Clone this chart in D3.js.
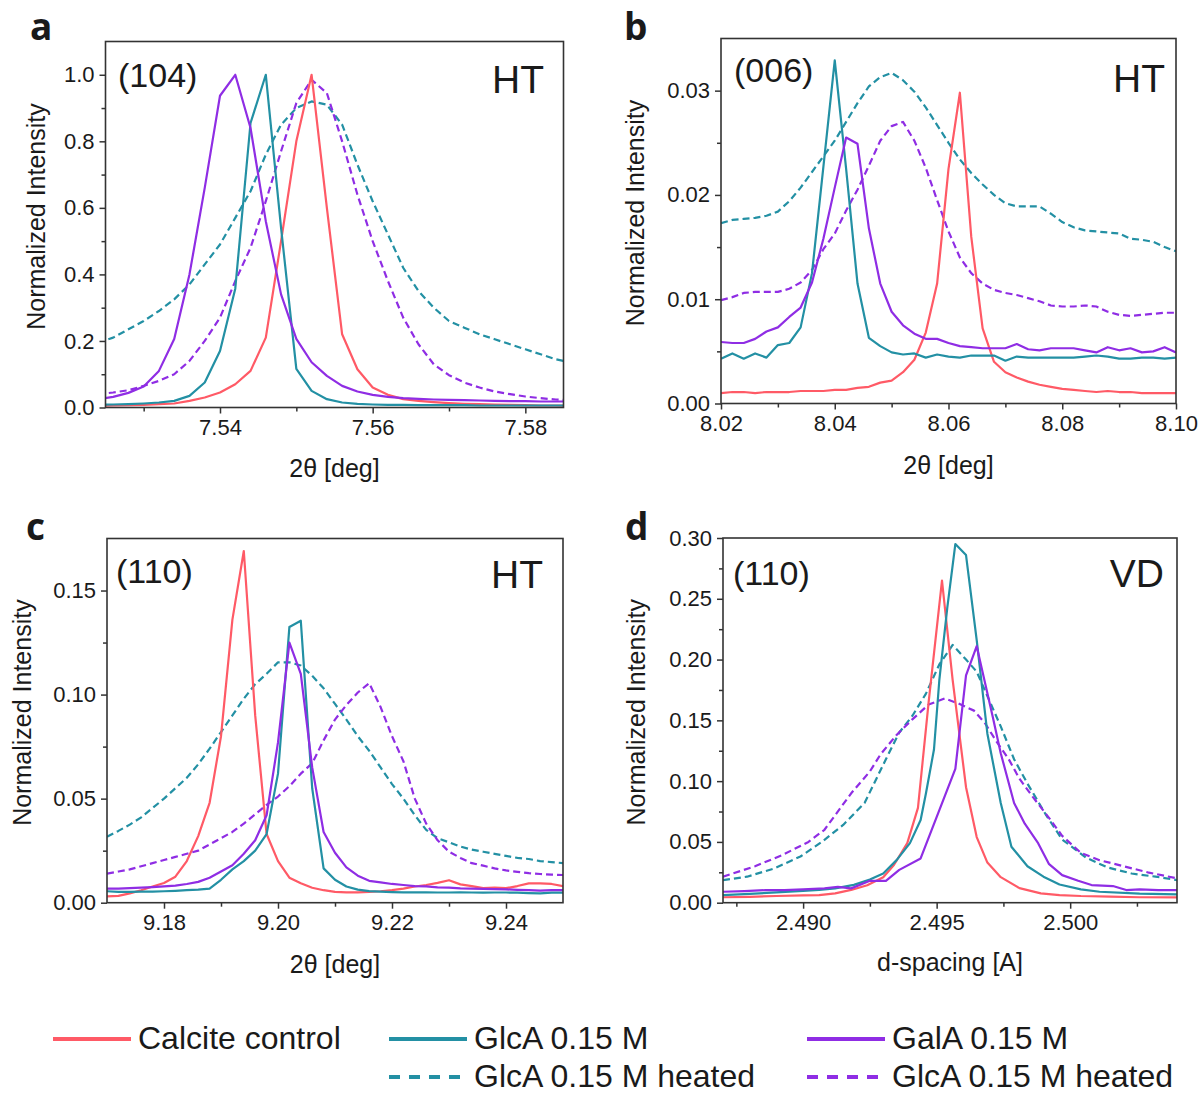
<!DOCTYPE html>
<html>
<head>
<meta charset="utf-8">
<script src="https://cdn.jsdelivr.net/npm/d3@7"></script>
<style>
  body { margin: 0; background: #fff; }
  svg text { font-family: "Liberation Sans", Arial, sans-serif; fill: #1a1a1a; }
</style>
</head>
<body>
<script>

// ---- panel a : (104) HT, 2theta ----
var aX = [7.524,7.526,7.528,7.530,7.532,7.534,7.536,7.538,7.540,7.542,7.544,7.546,7.548,7.550,7.552,7.554,
          7.556,7.558,7.560,7.562,7.564,7.566,7.568,7.570,7.572,7.574,7.576,7.578,7.580,7.582,7.584,7.586];
var aCalcite     = [0.005,0.006,0.007,0.008,0.010,0.012,0.020,0.030,0.045,0.070,0.110,0.210,0.500,0.800,1.000,0.600,
                    0.220,0.115,0.060,0.038,0.025,0.020,0.016,0.013,0.011,0.010,0.009,0.008,0.007,0.006,0.006,0.005];
var aGlcA        = [0.008,0.009,0.010,0.012,0.015,0.020,0.035,0.075,0.170,0.357,0.855,1.000,0.540,0.116,0.050,0.025,
                    0.015,0.011,0.009,0.008,0.008,0.007,0.007,0.007,0.007,0.006,0.006,0.006,0.006,0.006,0.006,0.006];
var aGalA        = [0.025,0.032,0.044,0.063,0.110,0.206,0.400,0.660,0.937,1.000,0.840,0.560,0.340,0.206,0.136,0.095,
                    0.065,0.048,0.038,0.032,0.028,0.026,0.024,0.023,0.022,0.021,0.020,0.019,0.019,0.018,0.018,0.018];
var aGlcAHeated  = [0.195,0.210,0.235,0.260,0.290,0.325,0.370,0.430,0.490,0.570,0.650,0.760,0.850,0.900,0.920,0.910,
                    0.850,0.730,0.620,0.520,0.420,0.350,0.300,0.260,0.240,0.220,0.205,0.190,0.175,0.160,0.145,0.135];
var aGalAHeated  = [0.040,0.045,0.052,0.065,0.080,0.100,0.140,0.200,0.270,0.380,0.480,0.620,0.770,0.915,0.985,0.945,
                    0.800,0.640,0.500,0.380,0.270,0.190,0.130,0.097,0.075,0.060,0.048,0.040,0.033,0.028,0.024,0.021];

// ---- panel b : (006) HT, 2theta ----
var bX = [8.020,8.022,8.024,8.026,8.028,8.030,8.032,8.034,8.036,8.038,8.040,8.042,8.044,8.046,8.048,8.050,8.052,
          8.054,8.056,8.058,8.060,8.062,8.064,8.066,8.068,8.070,8.072,8.074,8.076,8.078,8.080,8.082,8.084,8.086,
          8.088,8.090,8.092,8.094,8.096,8.098,8.100];
var bCalcite    = [0.0010,0.0011,0.0011,0.0010,0.0011,0.0011,0.0011,0.0012,0.0012,0.0012,
                   0.0013,0.0013,0.0015,0.0016,0.0020,0.0022,0.0030,0.0042,0.0068,0.0115,
                   0.0225,0.0298,0.0160,0.0072,0.0040,0.0030,0.0025,0.0021,0.0018,0.0016,
                   0.0014,0.0013,0.0012,0.0011,0.0012,0.0011,0.0011,0.0010,0.0010,0.0010,0.0010];
var bGlcA       = [0.0043,0.0048,0.0043,0.0048,0.0044,0.0056,0.0058,0.0073,0.0125,0.0227,
                   0.0329,0.0225,0.0115,0.0063,0.0055,0.0049,0.0047,0.0048,0.0044,0.0047,
                   0.0045,0.0044,0.0046,0.0046,0.0046,0.0041,0.0045,0.0044,0.0044,0.0044,
                   0.0044,0.0044,0.0045,0.0046,0.0045,0.0043,0.0043,0.0044,0.0044,0.0043,0.0044];
var bGalA       = [0.0059,0.0058,0.0058,0.0062,0.0069,0.0073,0.0083,0.0092,0.0116,0.0158,
                   0.0207,0.0255,0.0249,0.0168,0.0115,0.0088,0.0075,0.0067,0.0062,0.0062,
                   0.0058,0.0055,0.0054,0.0053,0.0053,0.0053,0.0057,0.0052,0.0051,0.0053,
                   0.0053,0.0053,0.0051,0.0049,0.0054,0.0051,0.0053,0.0049,0.0050,0.0054,0.0049];
var bGlcAHeated = [0.0173,0.0176,0.0177,0.0178,0.0180,0.0184,0.0194,0.0207,0.0222,0.0237,
                   0.0252,0.0270,0.0288,0.0304,0.0313,0.0317,0.0310,0.0299,0.0284,0.0267,
                   0.0250,0.0234,0.0221,0.0210,0.0200,0.0192,0.0189,0.0189,0.0189,0.0182,
                   0.0174,0.0169,0.0166,0.0165,0.0164,0.0163,0.0158,0.0157,0.0155,0.0150,0.0146];
var bGalAHeated = [0.0099,0.0102,0.0106,0.0107,0.0107,0.0107,0.0110,0.0116,0.0128,0.0148,
                   0.0163,0.0185,0.0205,0.0228,0.0252,0.0266,0.0270,0.0252,0.0226,0.0195,
                   0.0165,0.0140,0.0125,0.0115,0.0109,0.0106,0.0104,0.0101,0.0098,0.0094,
                   0.0093,0.0093,0.0094,0.0093,0.0088,0.0085,0.0084,0.0085,0.0086,0.0087,0.0087];

// ---- panel c : (110) HT, 2theta ----
var cX = [9.170,9.172,9.174,9.176,9.178,9.180,9.182,9.184,9.186,9.188,9.190,9.192,9.194,9.196,9.198,9.200,9.202,
          9.204,9.206,9.208,9.210,9.212,9.214,9.216,9.218,9.220,9.222,9.224,9.226,9.228,9.230,9.232,9.234,9.236,
          9.238,9.240,9.242,9.244,9.246,9.248,9.250];
var cCalcite    = [0.0030,0.0033,0.0045,0.0060,0.0078,0.0095,0.0125,0.0200,0.0320,0.0480,
                   0.0800,0.1360,0.1690,0.0900,0.0330,0.0200,0.0120,0.0093,0.0072,0.0060,
                   0.0052,0.0050,0.0050,0.0052,0.0055,0.0060,0.0068,0.0078,0.0085,0.0095,
                   0.0108,0.0088,0.0080,0.0070,0.0072,0.0070,0.0080,0.0093,0.0093,0.0090,0.0080];
var cGlcA       = [0.0055,0.0052,0.0052,0.0053,0.0053,0.0055,0.0057,0.0060,0.0063,0.0068,
                   0.0110,0.0160,0.0200,0.0250,0.0330,0.0620,0.1325,0.1355,0.0550,0.0165,
                   0.0110,0.0078,0.0063,0.0056,0.0053,0.0051,0.0050,0.0050,0.0050,0.0049,
                   0.0049,0.0050,0.0049,0.0048,0.0049,0.0049,0.0048,0.0046,0.0045,0.0048,0.0048];
var cGalA       = [0.0068,0.0068,0.0070,0.0072,0.0075,0.0078,0.0082,0.0090,0.0100,0.0120,
                   0.0150,0.0180,0.0235,0.0300,0.0420,0.0770,0.1250,0.1100,0.0650,0.0340,
                   0.0240,0.0170,0.0130,0.0105,0.0098,0.0090,0.0085,0.0080,0.0078,0.0074,
                   0.0072,0.0069,0.0068,0.0066,0.0065,0.0064,0.0062,0.0060,0.0058,0.0060,0.0060];
var cGlcAHeated = [0.0317,0.0345,0.0375,0.0410,0.0455,0.0500,0.0550,0.0600,0.0665,0.0740,
                   0.0820,0.0900,0.0980,0.1050,0.1100,0.1155,0.1155,0.1140,0.1090,0.1030,
                   0.0955,0.0880,0.0800,0.0730,0.0650,0.0570,0.0500,0.0420,0.0350,0.0310,
                   0.0290,0.0270,0.0255,0.0245,0.0235,0.0225,0.0215,0.0210,0.0200,0.0195,0.0190];
var cGalAHeated = [0.0140,0.0150,0.0160,0.0175,0.0190,0.0205,0.0220,0.0235,0.0250,0.0280,
                   0.0310,0.0340,0.0380,0.0425,0.0470,0.0510,0.0560,0.0620,0.0670,0.0780,
                   0.0880,0.0950,0.1010,0.1055,0.0940,0.0800,0.0680,0.0500,0.0380,0.0300,
                   0.0245,0.0215,0.0190,0.0178,0.0165,0.0155,0.0148,0.0142,0.0138,0.0135,0.0133];

// ---- panel d : (110) VD, d-spacing ----
var dCalciteX = [2.4870,2.4880,2.4890,2.4900,2.4906,2.4912,2.4918,2.4924,2.4930,2.4934,2.4939,2.4943,2.4947,
                 2.4952,2.4956,2.4961,2.4965,2.4969,2.4974,2.4981,2.4989,2.4996,2.5004,2.5015,2.5026,2.5040];
var dCalcite  = [0.0045,0.0048,0.0055,0.0060,0.0063,0.0077,0.0105,0.0144,0.0210,0.0310,0.0490,0.0780,0.1650,
                 0.2650,0.1830,0.0950,0.0540,0.0330,0.0210,0.0120,0.0077,0.0063,0.0055,0.0050,0.0045,0.0044];
var dGlcAX = [2.4870,2.4880,2.4890,2.4900,2.4906,2.4912,2.4919,2.4925,2.4930,2.4935,2.4940,2.4944,2.4946,2.4949,
              2.4951,2.4954,2.4957,2.4961,2.4965,2.4969,2.4974,2.4978,2.4984,2.4990,2.4996,2.5004,2.5011,2.5026,2.5040];
var dGlcA  = [0.0063,0.0072,0.0085,0.0098,0.0105,0.0118,0.0147,0.0190,0.0240,0.0350,0.0490,0.0680,0.0900,0.1260,
              0.1830,0.2430,0.2950,0.2860,0.2160,0.1390,0.0820,0.0460,0.0300,0.0214,0.0150,0.0110,0.0090,0.0075,0.0068];
var dGalAX = [2.4870,2.4878,2.4886,2.4893,2.4900,2.4908,2.4913,2.4918,2.4925,2.4931,2.4936,2.4944,2.4957,2.4961,
              2.4965,2.4971,2.4974,2.4979,2.4983,2.4988,2.4992,2.4997,2.5003,2.5008,2.5016,2.5021,2.5026,2.5033,2.5040];
var dGalA  = [0.0090,0.0096,0.0104,0.0104,0.0110,0.0118,0.0130,0.0118,0.0180,0.0180,0.0270,0.0364,0.1100,0.1870,
              0.2110,0.1530,0.1230,0.0820,0.0650,0.0490,0.0320,0.0227,0.0180,0.0145,0.0137,0.0104,0.0110,0.0104,0.0104];
var dGlcAHeatedX = [2.4870,2.4879,2.4889,2.4899,2.4907,2.4915,2.4923,2.4931,2.4936,2.4941,2.4946,2.4951,2.4956,
                    2.4961,2.4965,2.4969,2.4974,2.4979,2.4984,2.4991,2.4997,2.5006,2.5014,2.5023,2.5032,2.5040];
var dGlcAHeated  = [0.0186,0.0214,0.0280,0.0380,0.0500,0.0640,0.0820,0.1180,0.1400,0.1540,0.1720,0.1960,0.2120,
                    0.2000,0.1900,0.1700,0.1450,0.1180,0.0980,0.0720,0.0520,0.0370,0.0290,0.0240,0.0214,0.0186];
var dGalAHeatedX = [2.4870,2.4882,2.4892,2.4902,2.4908,2.4918,2.4925,2.4929,2.4935,2.4941,2.4947,2.4953,2.4958,
                    2.4964,2.4968,2.4972,2.4977,2.4981,2.4986,2.4992,2.4997,2.5004,2.5011,2.5020,2.5029,2.5040];
var dGalAHeated  = [0.0214,0.0300,0.0390,0.0500,0.0600,0.0900,0.1080,0.1220,0.1380,0.1510,0.1630,0.1680,0.1640,
                    0.1580,0.1480,0.1340,0.1180,0.1020,0.0870,0.0700,0.0550,0.0410,0.0350,0.0300,0.0250,0.0200];

// ---- ticks ----
var aXTicks = [7.54, 7.56, 7.58],            aXMinor = [7.53, 7.55, 7.57];
var aYTicks = [0, 0.2, 0.4, 0.6, 0.8, 1.0],  aYMinor = [0.1, 0.3, 0.5, 0.7, 0.9];
var bXTicks = [8.02, 8.04, 8.06, 8.08, 8.10], bXMinor = [8.03, 8.05, 8.07, 8.09];
var bYTicks = [0, 0.01, 0.02, 0.03],         bYMinor = [0.005, 0.015, 0.025];
var cXTicks = [9.18, 9.20, 9.22, 9.24],      cXMinor = [9.19, 9.21, 9.23];
var cYTicks = [0, 0.05, 0.10, 0.15],         cYMinor = [0.025, 0.075, 0.125];
var dXTicks = [2.490, 2.495, 2.500],         dXMinor = [2.4875, 2.4925, 2.4975, 2.5025];
var dYTicks = [0, 0.05, 0.10, 0.15, 0.20, 0.25, 0.30];
var dYMinor = [0.025, 0.075, 0.125, 0.175, 0.225, 0.275];

var seriesNames = ["Calcite control", "GlcA 0.15 M", "GalA 0.15 M", "GlcA 0.15 M heated", "GlcA 0.15 M heated"];

var width = 1202;
var height = 1095;

var red = "#ff5a66", teal = "#2390a4", purple = "#8f2de4";

function zip(xs, ys) {
  return xs.map(function (x, i) { return [x, ys[i]]; });
}

// dashed ones first so the solid peaks sit on top
function seriesSet(heatedTeal, heatedPurple, calcite, glca, gala) {
  return [
    { pts: heatedTeal,   color: teal,   dash: "7,4" },
    { pts: heatedPurple, color: purple, dash: "7,4" },
    { pts: calcite,      color: red,    dash: null },
    { pts: glca,         color: teal,   dash: null },
    { pts: gala,         color: purple, dash: null }
  ];
}

var panels = [
  { id: "a", letter: "a", letterX: 30, letterY: 40,
    box: [105.5, 41.5, 563.5, 407.5], xDom: [7.525, 7.585], yDom: [0, 1.1],
    xTicks: aXTicks, xMinor: aXMinor, yTicks: aYTicks, yMinor: aYMinor, xFmt: ".2f", yFmt: ".1f",
    hkl: "(104)", hklX: 118, hklY: 87, tag: "HT", tagX: 544, tagY: 93,
    xTitle: "2\u03b8 [deg]", xTitleY: 477, yTitleX: 45,
    series: seriesSet(zip(aX, aGlcAHeated), zip(aX, aGalAHeated), zip(aX, aCalcite), zip(aX, aGlcA), zip(aX, aGalA)) },
  { id: "b", letter: "b", letterX: 624, letterY: 40,
    box: [721, 38.5, 1176, 403.5], xDom: [8.02, 8.10], yDom: [0, 0.035],
    xTicks: bXTicks, xMinor: bXMinor, yTicks: bYTicks, yMinor: bYMinor, xFmt: ".2f", yFmt: ".2f",
    hkl: "(006)", hklX: 734, hklY: 82, tag: "HT", tagX: 1165, tagY: 92,
    xTitle: "2\u03b8 [deg]", xTitleY: 474, yTitleX: 644,
    series: seriesSet(zip(bX, bGlcAHeated), zip(bX, bGalAHeated), zip(bX, bCalcite), zip(bX, bGlcA), zip(bX, bGalA)) },
  { id: "c", letter: "c", letterX: 26, letterY: 540,
    box: [107, 538.5, 563, 902.7], xDom: [9.17, 9.25], yDom: [0, 0.175],
    xTicks: cXTicks, xMinor: cXMinor, yTicks: cYTicks, yMinor: cYMinor, xFmt: ".2f", yFmt: ".2f",
    hkl: "(110)", hklX: 116, hklY: 583, tag: "HT", tagX: 543, tagY: 588,
    xTitle: "2\u03b8 [deg]", xTitleY: 973, yTitleX: 31,
    series: seriesSet(zip(cX, cGlcAHeated), zip(cX, cGalAHeated), zip(cX, cCalcite), zip(cX, cGlcA), zip(cX, cGalA)) },
  { id: "d", letter: "d", letterX: 625, letterY: 540,
    box: [723, 538, 1177, 902.7], xDom: [2.487, 2.504], yDom: [0, 0.30],
    xTicks: dXTicks, xMinor: dXMinor, yTicks: dYTicks, yMinor: dYMinor, xFmt: ".3f", yFmt: ".2f",
    hkl: "(110)", hklX: 733, hklY: 585, tag: "VD", tagX: 1164, tagY: 587,
    xTitle: "d-spacing [A]", xTitleY: 971, yTitleX: 645,
    series: seriesSet(zip(dGlcAHeatedX, dGlcAHeated), zip(dGalAHeatedX, dGalAHeated),
                      zip(dCalciteX, dCalcite), zip(dGlcAX, dGlcA), zip(dGalAX, dGalA)) }
];

var svg = d3.select("body").append("svg")
  .attr("width", width)
  .attr("height", height);

svg.append("rect").attr("width", width).attr("height", height).attr("fill", "#fff");

function render(p) {
  var x0 = p.box[0], y0 = p.box[1], x1 = p.box[2], y1 = p.box[3];
  var x = d3.scaleLinear().domain(p.xDom).range([x0, x1]);
  var y = d3.scaleLinear().domain(p.yDom).range([y1, y0]);
  var g = svg.append("g");

  g.append("clipPath").attr("id", "clip-" + p.id)
    .append("rect").attr("x", x0).attr("y", y0).attr("width", x1 - x0).attr("height", y1 - y0);

  var line = d3.line()
    .x(function (d) { return x(d[0]); })
    .y(function (d) { return y(d[1]); });

  var lines = g.append("g").attr("clip-path", "url(#clip-" + p.id + ")");
  lines.selectAll("path").data(p.series).enter().append("path")
    .attr("d", function (s) { return line(s.pts); })
    .attr("fill", "none")
    .attr("stroke", function (s) { return s.color; })
    .attr("stroke-width", 2.2)
    .attr("stroke-linejoin", "round")
    .attr("stroke-dasharray", function (s) { return s.dash; });

  // axes (outward ticks), minor ticks without labels
  var xAxis = g.append("g").attr("transform", "translate(0," + y1 + ")")
    .call(d3.axisBottom(x).tickValues(p.xTicks).tickFormat(d3.format(p.xFmt)).tickSizeOuter(0).tickSize(6).tickPadding(6));
  var xMin = g.append("g").attr("transform", "translate(0," + y1 + ")")
    .call(d3.axisBottom(x).tickValues(p.xMinor).tickFormat("").tickSizeOuter(0).tickSize(4));
  var yAxis = g.append("g").attr("transform", "translate(" + x0 + ",0)")
    .call(d3.axisLeft(y).tickValues(p.yTicks).tickFormat(d3.format(p.yFmt)).tickSizeOuter(0).tickSize(6).tickPadding(5));
  var yMin = g.append("g").attr("transform", "translate(" + x0 + ",0)")
    .call(d3.axisLeft(y).tickValues(p.yMinor).tickFormat("").tickSizeOuter(0).tickSize(4));

  [xAxis, xMin, yAxis, yMin].forEach(function (ax) {
    ax.select(".domain").remove();
    ax.selectAll("line").attr("stroke", "#333").attr("stroke-width", 1.5);
    ax.selectAll("text").attr("font-size", 22).attr("fill", "#1a1a1a")
      .attr("font-family", "'Liberation Sans', Arial, sans-serif");
  });

  g.append("rect")
    .attr("x", x0).attr("y", y0).attr("width", x1 - x0).attr("height", y1 - y0)
    .attr("fill", "none").attr("stroke", "#333").attr("stroke-width", 1.6);

  // titles
  g.append("text").attr("x", (x0 + x1) / 2).attr("y", p.xTitleY)
    .attr("text-anchor", "middle").attr("font-size", 25).text(p.xTitle);
  g.append("text")
    .attr("transform", "translate(" + p.yTitleX + "," + ((y0 + y1) / 2 - 8) + ") rotate(-90)")
    .attr("text-anchor", "middle").attr("font-size", 25).text("Normalized Intensity");

  // annotations
  g.append("text").attr("x", p.hklX).attr("y", p.hklY).attr("font-size", 34).text(p.hkl);
  g.append("text").attr("x", p.tagX).attr("y", p.tagY).attr("text-anchor", "end")
    .attr("font-size", 39).text(p.tag);
  g.append("text").attr("x", p.letterX).attr("y", p.letterY)
    .attr("font-size", 37).attr("font-weight", "bold")
    .style("font-family", "'Open Sans', 'DejaVu Sans', sans-serif").text(p.letter);
}

panels.forEach(render);

// legend
var legendItems = [
  { name: seriesNames[0], color: red,    dash: null,   x: 53,  y: 1039 },
  { name: seriesNames[1], color: teal,   dash: null,   x: 389, y: 1039 },
  { name: seriesNames[2], color: purple, dash: null,   x: 807, y: 1039 },
  { name: seriesNames[3], color: teal,   dash: "11,9", x: 389, y: 1077 },
  { name: seriesNames[4], color: purple, dash: "11,9", x: 807, y: 1077 }
];

var legend = svg.append("g");
var items = legend.selectAll("g").data(legendItems).enter().append("g");
items.append("line")
  .attr("x1", function (d) { return d.x; })
  .attr("x2", function (d) { return d.x + 78; })
  .attr("y1", function (d) { return d.y; })
  .attr("y2", function (d) { return d.y; })
  .attr("stroke", function (d) { return d.color; })
  .attr("stroke-width", 4)
  .attr("stroke-dasharray", function (d) { return d.dash; });
items.append("text")
  .attr("x", function (d) { return d.x + 85; })
  .attr("y", function (d) { return d.y + 10; })
  .attr("font-size", 32)
  .text(function (d) { return d.name; });

</script>
</body>
</html>
